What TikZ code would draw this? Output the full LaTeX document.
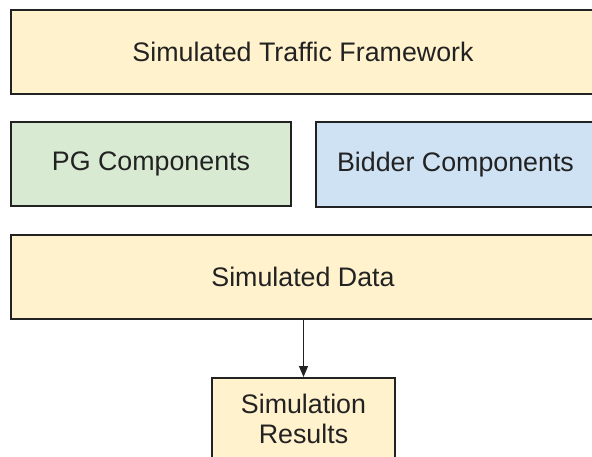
\documentclass[tikz,border=0pt]{standalone}
\usepackage{fontspec}
\setmainfont{Liberation Sans}
\usetikzlibrary{arrows.meta}
\definecolor{boxyellow}{HTML}{FFF2CC}
\definecolor{boxgreen}{HTML}{D9EAD3}
\definecolor{boxblue}{HTML}{CFE2F3}
\definecolor{inkgray}{HTML}{222222}
\begin{document}
\begin{tikzpicture}[x=1pt,y=-1pt,
  block/.style={draw=inkgray, line width=1.5pt, rectangle, inner sep=0pt,
    text=inkgray, font=\fontsize{26.8}{30}\selectfont},
  flow/.style={draw=inkgray, line width=1.2pt, -{Triangle[length=11pt,width=9pt]}}]
  % page frame
  \useasboundingbox (0,0) rectangle (592,457);
  \clip (0,0) rectangle (592,457);
  % framework layer
  \node[block, fill=boxyellow, minimum width=584pt, minimum height=84pt]
    (frame) at (303,52) {Simulated Traffic Framework};
  % component layer
  \node[block, fill=boxgreen, minimum width=280pt, minimum height=84pt]
    (pg) at (151,164) {PG Components};
  \node[block, fill=boxblue, minimum width=279pt, minimum height=85pt]
    (bidder) at (455.5,164.5) {Bidder Components};
  % data layer
  \node[block, fill=boxyellow, minimum width=584pt, minimum height=84pt]
    (data) at (303,277) {Simulated Data};
  % results
  \node[block, fill=boxyellow, minimum width=183pt, anchor=north, inner ysep=16pt,
    align=center] (res) at (303.5,377) {Simulation\\Results};
  \draw[flow] (res.north |- data.south) -- (res.north);
\end{tikzpicture}
\end{document}
